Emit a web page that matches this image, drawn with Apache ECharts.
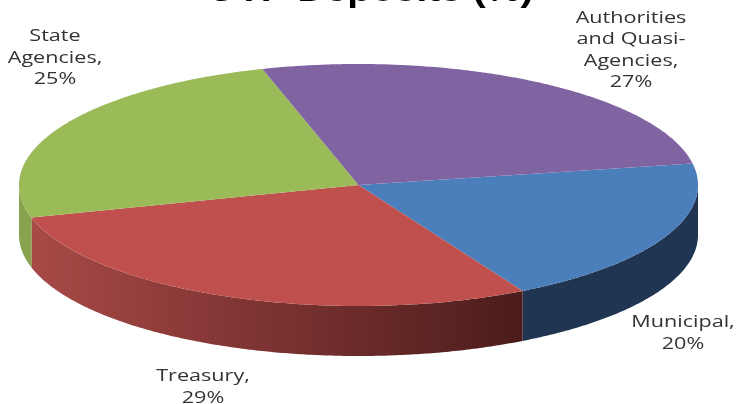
<!DOCTYPE html>
<html>
<head>
<meta charset="utf-8">
<style>html,body{margin:0;padding:0;background:#fff}#chart{width:736px;height:404px}</style>
<script src="https://cdn.jsdelivr.net/npm/echarts@6/dist/echarts.min.js"></script>
</head>
<body>
<div id="chart"></div>
<script>
// Share of deposits by depositor group, in percent, clockwise from the right-hand side
const categories = ['Municipal', 'Treasury', 'State\nAgencies', 'Authorities\nand Quasi-\nAgencies'];
const shares = [20, 29, 25, 27];
const topColors = ['#4b7fbb', '#c0504d', '#9bbb59', '#8064a2'];
const chartTitle = 'OTP Deposits (%)';
const labelCentres = [[683, 333], [203, 387], [55, 58], [631, 50]];

// Projection of the tilted disc
const CX = 358.5, CY = 185, RX = 339.5, RY = 121, DEPTH = 50, START_DEG = -10.2;
const total = shares.reduce((a, b) => a + b, 0);

const rimPoint = (deg, drop) => {
  const t = deg * Math.PI / 180;
  return [CX + RX * Math.cos(t), CY + RY * Math.sin(t) + drop];
};
const arc = (from, to, drop) => {
  const pts = [];
  const steps = Math.max(2, Math.ceil(Math.abs(to - from) * 2));
  for (let i = 0; i <= steps; i++) pts.push(rimPoint(from + (to - from) * i / steps, drop));
  return pts;
};
const wallFill = [
  '#1f3552',
  { type: 'linear', global: true, x: 31, y: 0, x2: 527, y2: 0,
    colorStops: [{ offset: 0, color: '#a84a47' }, { offset: 0.5, color: '#7a3230' }, { offset: 1, color: '#4a1c1b' }] },
  '#87a34f',
  '#5f4a79'
];

const rows = shares.map((v, i) => {
  const before = shares.slice(0, i).reduce((a, b) => a + b, 0);
  return [v, START_DEG + before / total * 360, START_DEG + (before + v) / total * 360, i];
});

function renderSlice(params, api) {
  const from = api.value(1), to = api.value(2), i = api.value(3);
  const children = [];
  // Only the part of the rim facing the viewer (0 to 180 degrees) shows a wall
  const a = Math.max(from, 0), b = Math.min(to, 180);
  if (b > a) {
    const upper = arc(a, b, 0), lower = arc(b, a, DEPTH);
    children.push({ type: 'polygon', shape: { points: upper.concat(lower) },
      style: { fill: wallFill[i] } });
  }
  children.push({ type: 'polygon', shape: { points: [[CX, CY]].concat(arc(from, to, 0)) },
    style: { fill: topColors[i] } });
  const c = labelCentres[i];
  // The labels are set wide, so the text is stretched horizontally about its centre
  children.push({ type: 'text', x: c[0], y: c[1], scaleX: 1.27, scaleY: 1, style: {
    text: categories[i] + ',\n' + api.value(0) + '%',
    align: 'center', verticalAlign: 'middle', fill: '#333', lineHeight: 21.5,
    fontFamily: 'Open Sans', fontSize: 17 } });
  return { type: 'group', children };
}

const chart = echarts.init(document.getElementById('chart'), null, { renderer: 'canvas' });
chart.setOption({
  animation: false,
  backgroundColor: '#fff',
  graphic: [{ type: 'text', x: 370, y: -8, scaleX: 1.18, scaleY: 1, style: {
    text: chartTitle, align: 'center', verticalAlign: 'middle',
    fontFamily: 'Liberation Sans', fontWeight: 'bold', fontSize: 33, fill: '#000' } }],
  series: [{ type: 'custom', coordinateSystem: 'none', renderItem: renderSlice, data: rows, clip: false }]
});
</script>
</body>
</html>
